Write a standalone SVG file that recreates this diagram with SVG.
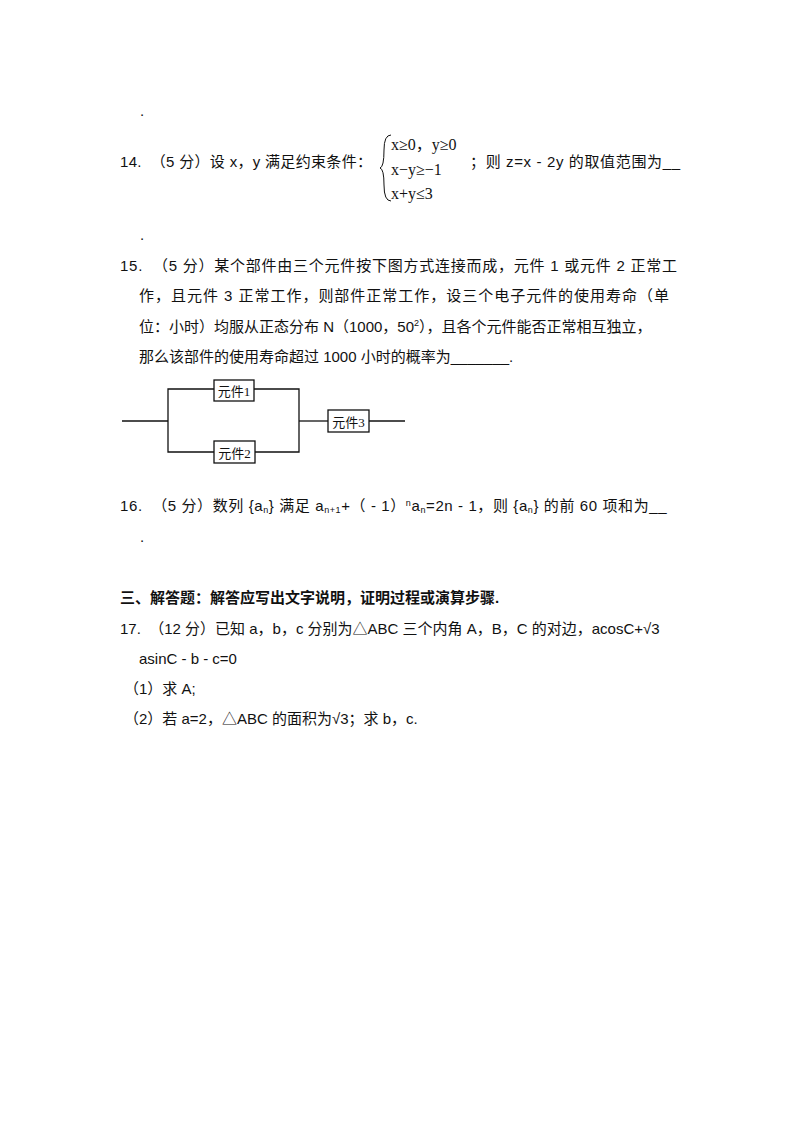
<svg xmlns="http://www.w3.org/2000/svg" width="800" height="1132" viewBox="0 0 800 1132">
<style>
text{font-family:"Liberation Sans","Noto Sans CJK SC",sans-serif;font-size:15px;fill:#111}
.s{font-family:"Liberation Serif","Noto Sans CJK SC",serif;font-size:15px}
.b{font-weight:bold}
.sm{font-size:9px}
line,polyline{stroke:#111;stroke-width:1.3;fill:none}
rect{fill:#fff;stroke:#111;stroke-width:1.3}
</style>
<rect x="0" y="0" width="800" height="1132" style="stroke:none"/>
<text x="140" y="116">.</text>
<text x="120" y="167" xml:space="preserve" textLength="252" lengthAdjust="spacing">14.  （5 分）设 x，y 满足约束条件：</text>
<path d="M391 135 Q384 135 384 150 Q384 167 380 168 Q384 169 384 185 Q384 201 391 201" fill="none" stroke="#111" stroke-width="1"/>
<text class="s" x="391" y="150" style="font-size:16px">x≥0，y≥0</text>
<text class="s" x="391" y="175" style="font-size:16px">x−y≥−1</text>
<text class="s" x="391" y="199" style="font-size:16px">x+y≤3</text>
<text x="470" y="167" textLength="210" lengthAdjust="spacing">；则 z=x - 2y 的取值范围为__</text>
<text x="140" y="240">.</text>
<text x="120" y="271" xml:space="preserve" textLength="557" lengthAdjust="spacing">15.  （5 分）某个部件由三个元件按下图方式连接而成，元件 1 或元件 2 正常工</text>
<text x="139" y="301" textLength="530" lengthAdjust="spacing">作，且元件 3 正常工作，则部件正常工作，设三个电子元件的使用寿命（单</text>
<text x="139" y="332">位：小时）均服从正态分布 N（1000，50<tspan class="sm" dy="-6">2</tspan><tspan dy="6">），且各个元件能否正常相互独立，</tspan></text>
<text x="139" y="362">那么该部件的使用寿命超过 1000 小时的概率为_______.</text>
<g id="connectors">
<line x1="122" y1="421" x2="168" y2="421"/>
<polyline points="214,389 168,389 168,452 214,452"/>
<polyline points="254,389 299,389 299,452 255,452"/>
<line x1="299" y1="421" x2="328" y2="421"/>
<line x1="369" y1="421" x2="405" y2="421"/>
</g>
<g id="n1"><rect x="214" y="380" width="40" height="21"/><text class="s" x="234" y="396" text-anchor="middle" style="font-size:13px">元件1</text></g>
<g id="n2"><rect x="214" y="441" width="41" height="22"/><text class="s" x="234.5" y="458" text-anchor="middle" style="font-size:13px">元件2</text></g>
<g id="n3"><rect x="328" y="410" width="41" height="22"/><text class="s" x="348.5" y="427" text-anchor="middle" style="font-size:13px">元件3</text></g>
<text x="120" y="511" xml:space="preserve" style="letter-spacing:0.6px">16.  （5 分）数列 {a<tspan class="sm" dy="2">n</tspan><tspan dy="-2">} 满足 a</tspan><tspan class="sm" dy="2">n+1</tspan><tspan dy="-2">+（ - 1）</tspan><tspan class="sm" dy="-5">n</tspan><tspan dy="5">a</tspan><tspan class="sm" dy="2">n</tspan><tspan dy="-2">=2n - 1，则 {a</tspan><tspan class="sm" dy="2">n</tspan><tspan dy="-2">} 的前 60 项和为__</tspan></text>
<text x="140" y="542">.</text>
<text class="b" x="120" y="603">三、解答题：解答应写出文字说明，证明过程或演算步骤.</text>
<text x="120" y="634" xml:space="preserve">17.  （12 分）已知 a，b，c 分别为△ABC 三个内角 A，B，C 的对边，acosC+√3</text>
<text x="139" y="664">asinC - b - c=0</text>
<text x="124" y="694">（1）求 A;</text>
<text x="124" y="724">（2）若 a=2，△ABC 的面积为√3；求 b，c.</text>
</svg>
